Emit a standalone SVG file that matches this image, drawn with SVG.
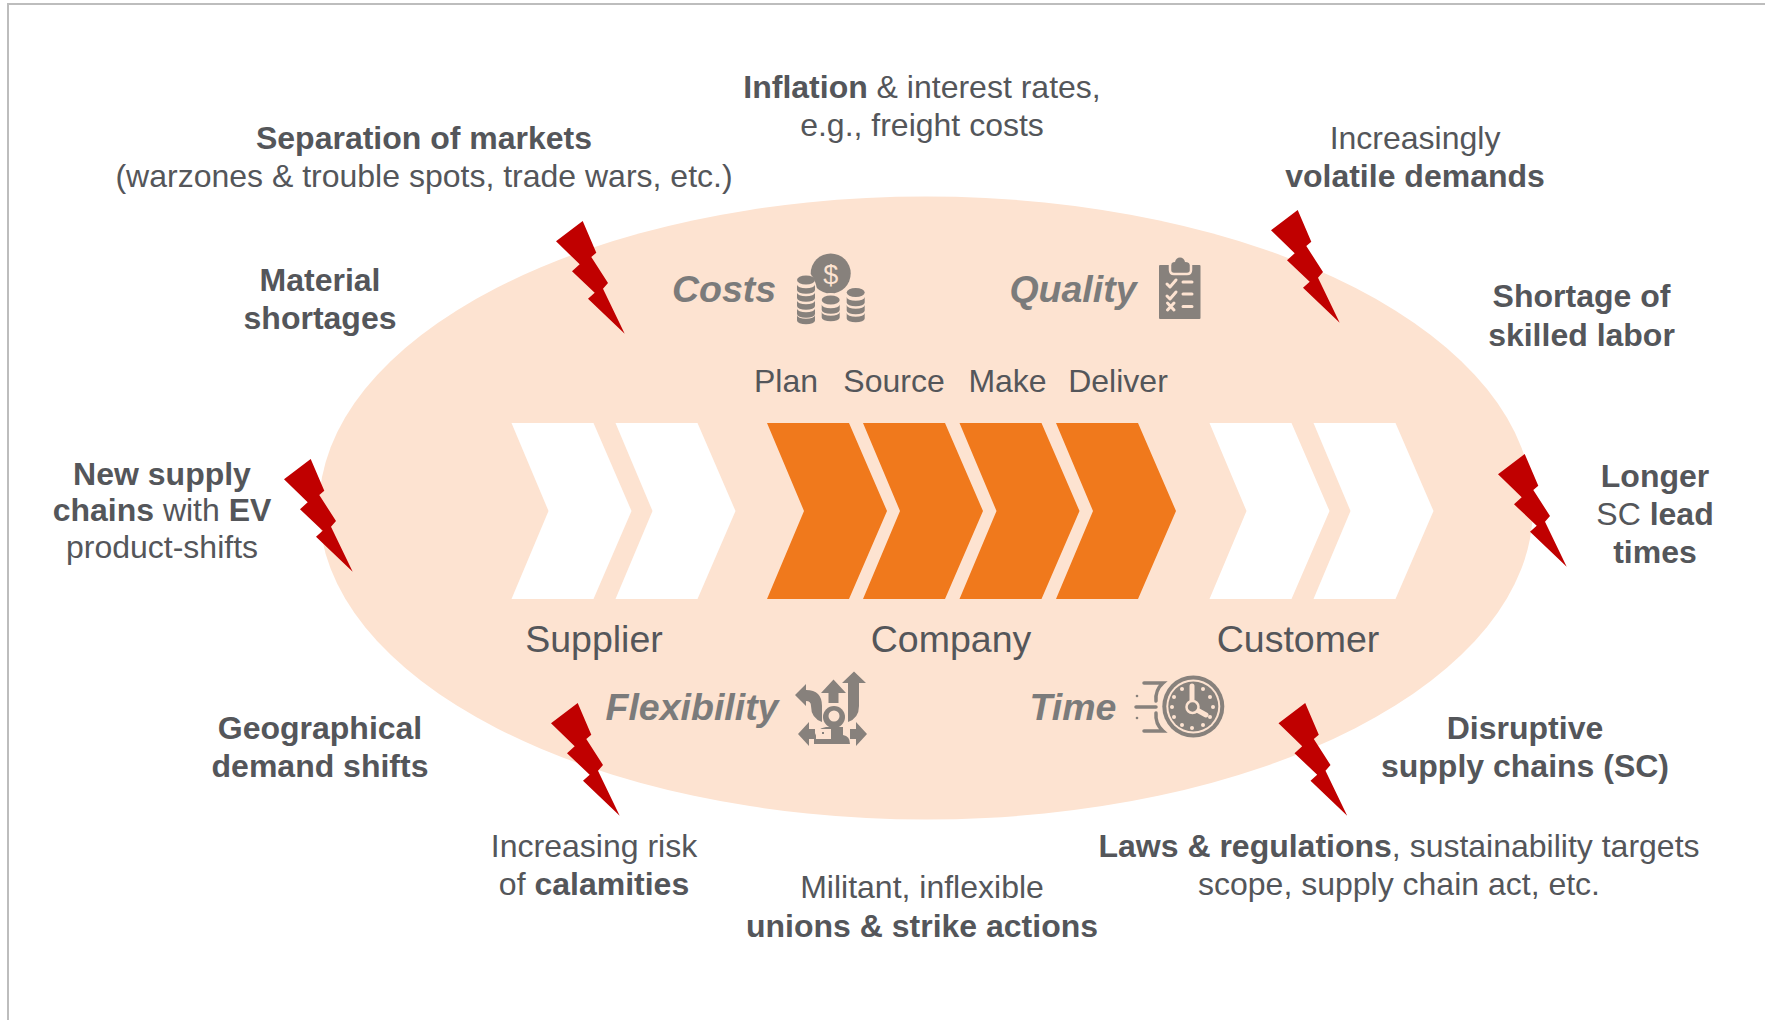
<svg xmlns="http://www.w3.org/2000/svg" width="1765" height="1020" viewBox="0 0 1765 1020">
<style>
text{font-family:"Liberation Sans",Arial,sans-serif;font-size:32px;fill:#54565a;text-anchor:middle}
.b{font-weight:700}
.p{font-size:37.500px}
.q{font-size:37.500px;font-weight:700;font-style:italic;fill:#7b7b7b}
.w{fill:#fff}.o{fill:#f0791c}.bolt{fill:#c00000}
.i{fill:#87817c}.l{fill:#fde3d1}
.ls{fill:none;stroke:#fde3d1;stroke-width:2.2;stroke-linecap:round;stroke-linejoin:round}
.gs{fill:none;stroke:#87817c;stroke-width:3.500;stroke-linecap:round}
</style>
<defs>
<polygon id="bolt" class="bolt" points="26.7,0 40.3,31.7 35.3,36 52,62 47,67.7 68.7,112.7 32,77.7 38.7,71.7 16,50.3 23.7,43.3 0,20.3"/>
<path id="chev" d="M0,0H82L120,88L82,176H0L37,88Z"/>
<path id="coin" class="i" d="M-9,0V5.500A9,3.800 0 0 0 9,5.500V0A9,3.800 0 0 1 -9,0Z"/>
<path id="chk" class="ls" d="M0,4L3,7L9,0" style="stroke-width:3"/>
</defs>
<g id="frame"><path d="M8,1020V4H1765" fill="none" stroke="#bdbdbd" stroke-width="2"/></g>
<g id="oval"><ellipse cx="926" cy="508" rx="607" ry="311.500" fill="#fde3d1"/></g>
<g id="chevrons">
<use href="#chev" class="w" x="511.500" y="423"/>
<use href="#chev" class="w" x="615.500" y="423"/>
<use href="#chev" class="o" x="767" y="423"/>
<use href="#chev" class="o" x="863" y="423"/>
<use href="#chev" class="o" x="959.500" y="423"/>
<use href="#chev" class="o" x="1056" y="423"/>
<use href="#chev" class="w" x="1209.500" y="423"/>
<use href="#chev" class="w" x="1313.500" y="423"/>
</g>
<g id="bolts">
<use href="#bolt" x="556" y="221"/>
<use href="#bolt" x="1271" y="210"/>
<use href="#bolt" x="284" y="459"/>
<use href="#bolt" x="1498" y="454"/>
<use href="#bolt" x="551" y="703"/>
<use href="#bolt" x="1278.500" y="703"/>
</g>
<g id="icon-costs">
<circle class="i" cx="830.700" cy="273.500" r="20"/>
<text x="830.700" y="283.500" style="font-size:27px;fill:#fde3d1">$</text>
<ellipse class="l" cx="806" cy="300" rx="12" ry="28"/>
<ellipse class="l" cx="830.700" cy="310" rx="12" ry="17"/>
<ellipse class="l" cx="855.700" cy="305" rx="12" ry="19"/>
<g>
<ellipse class="i" cx="806" cy="280" rx="9" ry="4.500"/>
<use href="#coin" x="806" y="284.500"/><use href="#coin" x="806" y="292.500"/><use href="#coin" x="806" y="300.500"/><use href="#coin" x="806" y="308.500"/><use href="#coin" x="806" y="315"/>
<ellipse class="i" cx="830.700" cy="300" rx="9" ry="4.500"/>
<use href="#coin" x="830.700" y="304.500"/><use href="#coin" x="830.700" y="312"/>
<ellipse class="i" cx="855.700" cy="292.500" rx="9" ry="4.500"/>
<use href="#coin" x="855.700" y="297"/><use href="#coin" x="855.700" y="305"/><use href="#coin" x="855.700" y="313"/>
</g>
</g>
<g id="icon-quality">
<rect class="i" x="1159" y="265" width="41.500" height="54" rx="1"/>
<path class="i" d="M1171,276V266Q1171,262 1175,262Q1176,257.500 1180,257.500Q1184,257.500 1185,262Q1190,262 1190,266V271H1171Z"/>
<path d="M1170,264V270Q1170,274 1174,274H1187Q1191,274 1191,270V264" fill="none" stroke="#fde3d1" stroke-width="2.500"/>
<use href="#chk" x="1167" y="280"/><use href="#chk" x="1167" y="292"/>
<path class="ls" style="stroke-width:3" d="M1167.500,303L1174,310M1174,303L1167.500,310M1183,282H1192M1183,294H1192M1183,306.500H1192"/>
</g>
<g id="icon-flexibility">
<path class="i" d="M854,671.500L866,683H859V706Q859,718 848,722V683H842Z"/>
<path class="i" d="M833.500,679.500L846,693H838.500V703H828.500V693H821Z"/>
<path class="i" d="M795,695L806,684V690Q822,690 822,706V722Q811,718 811,706Q811,701 806,701V706Z"/>
<circle class="i" cx="834" cy="717" r="11"/>
<circle class="l" cx="834" cy="716" r="5.500"/>
<path class="i" d="M814,744V739Q816,728 826,727H843V735Q850,736 850,744Z"/>
<rect class="l" x="816" y="729" width="15" height="10"/>
<rect class="i" x="822" y="732" width="2" height="2"/>
<path class="i" d="M798,734L809,722V729H815V739H809V746Z"/>
<path class="i" d="M867,734L856,722V729H850V739H856V746Z"/>
</g>
<g id="icon-time">
<circle class="i" cx="1193.300" cy="706.500" r="31"/>
<circle class="l" cx="1193.300" cy="706.500" r="27"/>
<circle class="i" cx="1193.300" cy="706.500" r="25"/>
<g class="l"><circle cx="1192" cy="687" r="2"/><circle cx="1203" cy="689" r="2"/><circle cx="1210" cy="697" r="2"/><circle cx="1213" cy="707" r="2"/><circle cx="1210" cy="717" r="2"/><circle cx="1203" cy="725" r="2"/><circle cx="1192" cy="728" r="2"/><circle cx="1182" cy="725" r="2"/><circle cx="1174" cy="717" r="2"/><circle cx="1172" cy="707" r="2"/><circle cx="1174" cy="697" r="2"/><circle cx="1182" cy="689" r="2"/></g>
<path d="M1192,686V700M1197,710L1206,715" stroke="#fde3d1" stroke-width="5" stroke-linecap="round"/>
<circle cx="1192.500" cy="707" r="6" class="i" stroke="#fde3d1" stroke-width="2.500"/>
<path class="gs" d="M1144,683H1163Q1155,690 1156,701M1136,707H1156M1144,731H1163Q1155,724 1156,713"/>
<circle class="i" cx="1137" cy="696" r="1.300"/><circle class="i" cx="1137" cy="718" r="1.300"/>
</g>
<g id="labels">
<text x="922" y="98"><tspan class="b">Inflation</tspan> &amp; interest rates,</text>
<text x="922" y="136">e.g., freight costs</text>
<text x="424" y="149" class="b">Separation of markets</text>
<text x="424" y="187">(warzones &amp; trouble spots, trade wars, etc.)</text>
<text x="1415" y="149">Increasingly</text>
<text x="1415" y="187" class="b">volatile demands</text>
<text x="320" y="291" class="b">Material</text>
<text x="320" y="329" class="b">shortages</text>
<text x="1581.500" y="307" class="b">Shortage of</text>
<text x="1581.500" y="345.500" class="b">skilled labor</text>
<text x="162" y="485" class="b">New supply</text>
<text x="162" y="521"><tspan class="b">chains</tspan> with <tspan class="b">EV</tspan></text>
<text x="162" y="558">product-shifts</text>
<text x="1655" y="487" class="b">Longer</text>
<text x="1655" y="525">SC <tspan class="b">lead</tspan></text>
<text x="1655" y="563" class="b">times</text>
<text x="786" y="392">Plan</text>
<text x="894" y="392">Source</text>
<text x="1007.500" y="392">Make</text>
<text x="1118" y="392">Deliver</text>
<text x="594" y="652" class="p">Supplier</text>
<text x="951" y="652" class="p">Company</text>
<text x="1298" y="652" class="p">Customer</text>
<text x="724" y="302" class="q">Costs</text>
<text x="1073" y="302" class="q">Quality</text>
<text x="692" y="720" class="q">Flexibility</text>
<text x="1073" y="720" class="q">Time</text>
<text x="320" y="739" class="b">Geographical</text>
<text x="320" y="777" class="b">demand shifts</text>
<text x="1525" y="739" class="b">Disruptive</text>
<text x="1525" y="777" class="b">supply chains (SC)</text>
<text x="594" y="857">Increasing risk</text>
<text x="594" y="895">of <tspan class="b">calamities</tspan></text>
<text x="1399" y="857"><tspan class="b">Laws &amp; regulations</tspan>, sustainability targets</text>
<text x="1399" y="895">scope, supply chain act, etc.</text>
<text x="922" y="898">Militant, inflexible</text>
<text x="922" y="937" class="b">unions &amp; strike actions</text>
</g>
</svg>
